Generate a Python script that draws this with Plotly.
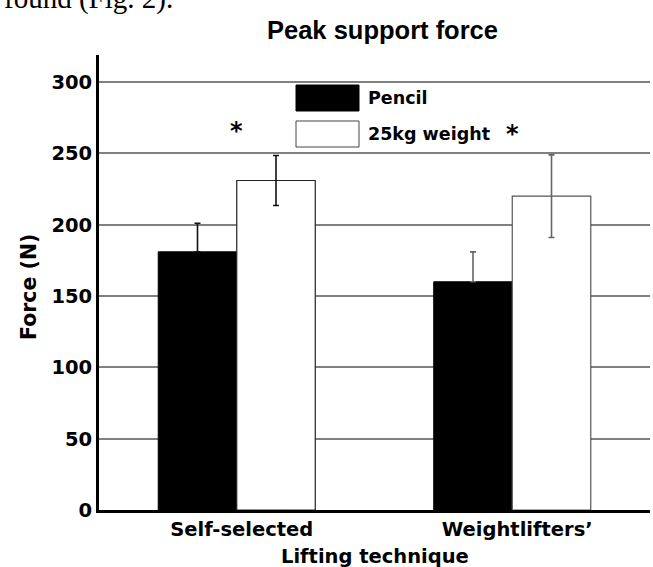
import plotly.graph_objects as go

# ---- data ----
categories = ["Self-selected", "Weightlifters\u2019"]
pencil = [181, 160]
pencil_err = [20, 21]
weight25 = [231, 220]
weight25_err = [17.5, 29]
significance = ["*", "*"]
significance_y = [265.5, 263.5]
y_ticks = [0, 50, 100, 150, 200, 250, 300]

# ---- layout geometry (pixels) ----
W, H = 653, 567
L, R, T, B = 99, 650, 55, 510
PW, PH = R - L, B - T

def px(x):
    return (x - L) / PW

def py(y):
    return (B - y) / PH

FONT = "DejaVu Sans"
err_colors = ["#111111", "#666666"]
edge_colors = ["#222222", "#555555"]

fig = go.Figure()
for i, cat in enumerate(categories):
    fig.add_trace(go.Bar(
        x=[cat], y=[pencil[i]], name="Pencil", offsetgroup="pencil",
        marker=dict(color="black", line=dict(color="black", width=1)),
        error_y=dict(type="data", symmetric=False, array=[pencil_err[i]], arrayminus=[0],
                     color=err_colors[i], thickness=1.6, width=3),
        showlegend=False,
    ))
    fig.add_trace(go.Bar(
        x=[cat], y=[weight25[i]], name="25kg weight", offsetgroup="w25",
        marker=dict(color="white", line=dict(color=edge_colors[i], width=1.2)),
        error_y=dict(type="data", array=[weight25_err[i]], color=err_colors[i],
                     thickness=1.6, width=3),
        showlegend=False,
    ))

# significance asterisks
for i, cat in enumerate(categories):
    fig.add_annotation(x=cat, y=significance_y[i], xref="x", yref="y",
                       text=f"<b>{significance[i]}</b>", showarrow=False,
                       font=dict(family=FONT, size=24, color="black"),
                       xanchor="center", yanchor="middle")

# custom legend
fig.add_shape(type="rect", xref="paper", yref="paper",
              x0=px(296), x1=px(359), y0=py(111), y1=py(85),
              fillcolor="black", line=dict(color="black", width=1))
fig.add_shape(type="rect", xref="paper", yref="paper",
              x0=px(296), x1=px(359), y0=py(147), y1=py(121),
              fillcolor="white", line=dict(color="#444444", width=1))
fig.add_annotation(xref="paper", yref="paper", x=px(366), y=py(98),
                   text="<b>Pencil</b>", showarrow=False, xanchor="left", yanchor="middle",
                   font=dict(family=FONT, size=17.5, color="black"))
fig.add_annotation(xref="paper", yref="paper", x=px(366), y=py(134),
                   text="<b>25kg weight</b>", showarrow=False, xanchor="left", yanchor="middle",
                   font=dict(family=FONT, size=17.5, color="black"))

# axis titles
fig.add_annotation(xref="paper", yref="paper", x=px(375), y=py(556),
                   text="<b>Lifting technique</b>", showarrow=False,
                   xanchor="center", yanchor="middle",
                   font=dict(family=FONT, size=19.5, color="black"))
fig.add_annotation(xref="paper", yref="paper", x=px(29), y=py(287),
                   text="<b>Force (N)</b>", showarrow=False, textangle=-90,
                   xanchor="center", yanchor="middle",
                   font=dict(family=FONT, size=20.5, color="black"))

# cropped document text at top
fig.add_annotation(xref="paper", yref="paper", x=px(2), y=py(17),
                   text="found (Fig. 2).", showarrow=False, xanchor="left", yanchor="bottom",
                   font=dict(family="Liberation Serif", size=29, color="black"))

fig.update_layout(
    width=W, height=H,
    margin=dict(l=L, r=W - R, t=T, b=H - B, pad=0),
    paper_bgcolor="white", plot_bgcolor="white",
    barmode="group", bargap=0.43, bargroupgap=0,
    title=dict(text="<b>Peak support force</b>", xref="paper", x=px(382.5),
               xanchor="center", yref="container", y=1 - 30 / H, yanchor="middle",
               font=dict(family="Liberation Sans", size=25.5, color="black")),
    showlegend=False,
)
fig.update_xaxes(
    type="category", range=[-0.5, 1.5], automargin=False,
    showgrid=False, showline=True, linecolor="black", linewidth=3,
    ticks="", tickfont=dict(family=FONT, size=19.5, color="black"),
    tickprefix="<b>", ticksuffix="</b>", ticklabelshift=5,
)
fig.update_yaxes(
    range=[0, 319], tickvals=y_ticks, automargin=False,
    ticktext=[f"<b>{v}</b>" for v in y_ticks],
    showgrid=True, gridcolor="#808080", gridwidth=1.5,
    zeroline=False, showline=True, linecolor="black", linewidth=3,
    ticks="", tickfont=dict(family=FONT, size=19.5, color="black"),
)

fig.write_html("out.html", config={"displayModeBar": False},
               post_script="document.body.style.margin='0';document.body.style.overflow='hidden';")
